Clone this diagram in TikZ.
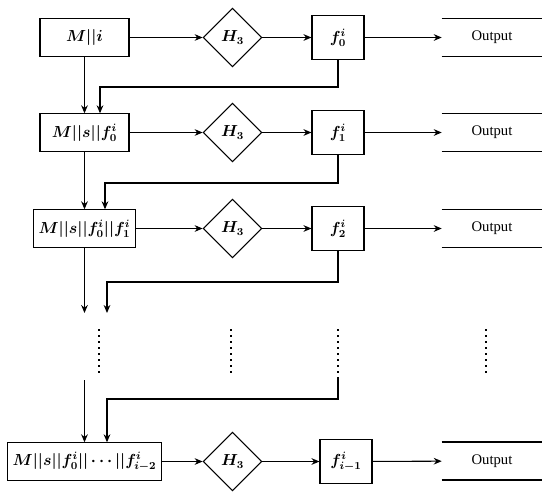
\documentclass[tikz,border=0pt]{standalone}
\usepackage{bm}
\usepackage{fontspec}
\newfontfamily\outfont{Liberation Serif}
\usetikzlibrary{shapes.geometric, arrows.meta, positioning}
\tikzset{
  inblock/.style  = {rectangle, draw, line width=0.8pt,
                     minimum width=66.75pt, minimum height=28pt,
                     inner xsep=4pt, font=\fontsize{12}{14}\selectfont},
  hblock/.style   = {diamond, draw, line width=0.8pt, aspect=1,
                     minimum width=44pt, minimum height=44pt,
                     inner sep=0pt, font=\fontsize{12}{14}\selectfont},
  fblock/.style   = {rectangle, draw, line width=0.8pt,
                     minimum width=39pt, minimum height=33.5pt,
                     inner sep=1pt, font=\fontsize{12}{14}\selectfont},
  outblock/.style = {rectangle, minimum width=75pt, minimum height=28pt,
                     font=\outfont\fontsize{11}{13}\selectfont},
  outline/.style  = {line width=1.2pt},
  arrow/.style    = {-{Stealth[length=6pt,width=5pt]}, line width=0.8pt},
  dotline/.style  = {line width=1.5pt, dash pattern=on 1.5pt off 3pt},
}
\begin{document}
\begin{tikzpicture}[x=0.75pt, y=-0.75pt]
  \useasboundingbox (0,0) rectangle (550,497);
  % rows
  \node[inblock] (in1) at (84.5,37.5)  {$\bm{M||i}$};
  \node[inblock] (in2) at (84.5,132.5) {$\bm{M||s||f_0^i}$};
  \node[inblock] (in3) at (84.5,228.5) {$\bm{M||s||f_0^i||f_1^i}$};
  \node[inblock] (in4) at (84.5,461.5) {$\bm{M||s||f_0^i||\cdots||f_{i-2}^i}$};
  \node[hblock] (h1) at (232.5,37.5)  {$\bm{H_3}$};
  \node[hblock] (h2) at (232.5,132.5) {$\bm{H_3}$};
  \node[hblock] (h3) at (232.5,228.5) {$\bm{H_3}$};
  \node[hblock] (h4) at (232.5,461.5) {$\bm{H_3}$};
  \node[fblock] (f0) at (338,37.5)  {$\bm{f_0^i}$};
  \node[fblock] (f1) at (338,132.5) {$\bm{f_1^i}$};
  \node[fblock] (f2) at (338,228.5) {$\bm{f_2^i}$};
  \node[fblock] (f3) at (346,461.5) {$\bm{f_{i-1}^i}$};
  \node[outblock] (out1) at (492,37.5)  {Output};
  \node[outblock] (out2) at (492,132.5) {Output};
  \node[outblock] (out3) at (492,228.5) {Output};
  \node[outblock] (out4) at (492,461)   {Output};
  \foreach \o in {out1,out2,out3,out4} {
    \draw[outline] (\o.north west) -- (\o.north east);
    \draw[outline] (\o.south west) -- (\o.south east);
  }
  \foreach \a/\b in {in1/h1,h1/f0,f0/out1,in2/h2,h2/f1,f1/out2,
                     in3/h3,h3/f2,f2/out3,in4/h4,h4/f3,f3/out4}
    \draw[arrow] (\a) -- (\b);
  % feedback
  \coordinate (k1) at (100,87);
  \coordinate (k2) at (105,183);
  \coordinate (k3) at (107,282);
  \coordinate (k4) at (107,399);
  \coordinate (g1) at (84.5,313);
  \coordinate (g2) at (84.5,380);
  \coordinate (m)  at (338,377);
  \draw[arrow] (in1) -- (in2);
  \draw[arrow] (in2) -- (in3);
  \draw[arrow] (in3) -- (g1);
  \draw[arrow] (g2) -- (in4);
  \draw[arrow] (f0.south) |- (k1) -- (k1 |- in2.north);
  \draw[arrow] (f1.south) |- (k2) -- (k2 |- in3.north);
  \draw[arrow] (f2.south) |- (k3) -- (k3 |- g1);
  \draw[arrow] (m) |- (k4) -- (k4 |- in4.north);
  % dots
  \foreach \x in {99,231,338,486}
    \draw[dotline] (\x,329) -- (\x,374);
\end{tikzpicture}
\end{document}
